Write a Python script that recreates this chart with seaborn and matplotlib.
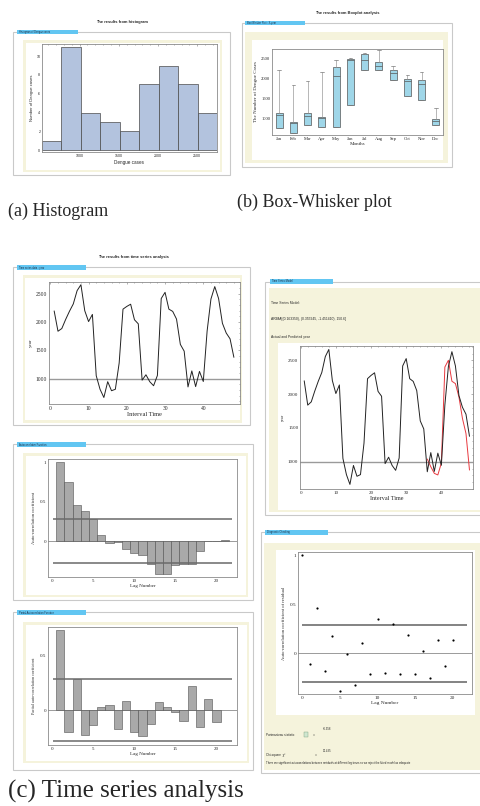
import numpy as np
import pandas as pd
import matplotlib.pyplot as plt
import seaborn as sns
from matplotlib.patches import Rectangle
from matplotlib.ticker import MultipleLocator

sns.set_style("white")
plt.rcParams["font.family"] = ["Liberation Serif", "DejaVu Serif"]
plt.rcParams["axes.linewidth"] = 0.6

W, H = 480, 806
BEIGE = "#f5f3dc"
TAB = "#62c6f2"
FRAME = "#c9c9c9"
SANS = ["Liberation Sans", "DejaVu Sans"]

# ---- data ----
hist_edges = [520, 768, 1016, 1264, 1512, 1760, 2008, 2256, 2504, 2752]
hist_counts = [1, 11, 4, 3, 2, 7, 9, 7, 4]

months = ["Jan", "Feb", "Mar", "Apr", "May", "Jun",
          "Jul", "Aug", "Sep", "Oct", "Nov", "Dec"]
box_low = [750, 625, 833, 775, 792, 1333, 2208, 2192, 1942, 1542, 1458, 833]
box_q1 = [750, 625, 833, 775, 792, 1333, 2208, 2192, 1942, 1542, 1458, 833]
box_med = [1083, 875, 1058, 1000, 2058, 2458, 2442, 2308, 2125, 1917, 1850, 933]
box_q3 = [1125, 917, 1142, 1042, 2275, 2483, 2608, 2392, 2192, 1975, 1958, 975]
box_high = [2192, 1833, 1917, 2150, 2442, 2500, 2625, 2692, 2308, 2083, 2150, 1250]

ts_time = list(range(1, 49))
ts_cases = [2196, 1837, 1885, 2045, 2190, 2320, 2555, 2660, 2200, 2008, 2135, 1050,
            810, 665, 945, 785, 810, 1275, 2228, 2276, 2315, 2040, 1968, 972,
            1067, 945, 873, 1055, 2416, 2525, 2228, 2188, 2052, 1604, 1485, 852,
            1135, 858, 1127, 948, 1840, 2407, 2627, 2416, 1978, 1805, 1703, 1376]
pred_time = list(range(36, 49))
pred_cases = [1040, 926, 828, 805, 980, 2400, 2500, 2190, 2155, 1958, 1640, 1418, 877]

acf_lags = list(range(1, 22))
acf_vals = [1.0, 0.745, 0.46, 0.387, 0.277, 0.077, -0.03, -0.017, -0.094, -0.149,
            -0.179, -0.285, -0.421, -0.413, -0.306, -0.285, -0.285, -0.123,
            -0.005, 0.004, 0.013]
acf_limit = 0.277

pacf_lags = list(range(1, 21))
pacf_vals = [0.742, -0.199, 0.285, -0.230, -0.138, 0.025, 0.046, -0.178, 0.086,
             -0.199, -0.236, -0.132, 0.077, 0.031, -0.015, -0.101, 0.221, -0.160,
             0.107, -0.107]
pacf_limit = 0.287

resid_lags = list(range(0, 21))
resid_acf = [1.0, -0.112, 0.468, -0.180, 0.173, -0.380, -0.010, -0.322, 0.102,
             -0.210, 0.349, -0.197, 0.295, -0.210, 0.183, -0.210, 0.024, -0.254,
             0.136, -0.125, 0.136]
resid_limit = 0.29

fig = plt.figure(figsize=(W / 100, H / 100), dpi=100)


def rect(x0, y0, x1, y1, fc, ec="none", lw=0.6, z=-10):
    fig.add_artist(Rectangle((x0 / W, 1 - y1 / H), (x1 - x0) / W, (y1 - y0) / H,
                             transform=fig.transFigure, facecolor=fc,
                             edgecolor=ec, lw=lw, zorder=z))


def panel(frame, tab, beige, white, label):
    rect(*frame, fc="white", ec=FRAME, lw=0.8, z=-10)
    rect(*beige, fc=BEIGE, z=-9)
    rect(*white, fc="white", z=-8)
    rect(*tab, fc=TAB, z=-7)
    fig.text((tab[0] + 2) / W, 1 - (tab[1] + tab[3]) / 2 / H, label,
             fontsize=1.8, family=SANS, color="#1a2a40", va="center")


def add_ax(x0, y0, x1, y1):
    return fig.add_axes([x0 / W, 1 - y1 / H, (x1 - x0) / W, (y1 - y0) / H])


def style(ax, size=3.6):
    for s in ax.spines.values():
        s.set_color("#8a8a8a")
        s.set_linewidth(0.6)
    ax.tick_params(which="both", direction="in", length=1.5, width=0.4,
                   color="#777777", labelsize=size, pad=1.2)
    ax.tick_params(which="minor", length=1.0)


def ftext(x, y, s, **kw):
    fig.text(x / W, 1 - y / H, s, **kw)


# ---- (a) histogram ----
ftext(122, 22, "The results from histogram", fontsize=2.9, family=SANS,
      weight="bold", ha="center", va="center")
panel((13, 32, 230, 175), (17, 30, 78, 34), (23, 40, 222, 172), (26, 43, 220, 170),
      "Histogram of Dengue cases")
ax = add_ax(42, 44, 217, 152)
mids = [(a + b) / 2 for a, b in zip(hist_edges[:-1], hist_edges[1:])]
sns.histplot(x=mids, weights=hist_counts, bins=hist_edges, color="#b3c3de",
             edgecolor="#4a4a4a", linewidth=0.5, alpha=1, ax=ax)
ax.set_xlim(hist_edges[0], hist_edges[-1])
ax.set_ylim(-0.2, 11.3)
ax.set_xticks([1000, 1500, 2000, 2500])
ax.set_yticks([0, 2, 4, 6, 8, 10])
ax.xaxis.set_minor_locator(MultipleLocator(100))
style(ax, 2.6)
ax.tick_params(which="both", top=True)
for t in ax.get_xticklabels() + ax.get_yticklabels():
    t.set_family(SANS)
ax.set_xlabel("Dengue cases", fontsize=3.3, family=SANS, labelpad=1.5)
ax.set_ylabel("Number of Dengue cases", fontsize=3.0, family=SANS, labelpad=2)

ftext(8, 211, "(a) Histogram", fontsize=13, va="center")

# ---- (b) box-whisker ----
ftext(347, 13, "The results from Boxplot analysis", fontsize=2.9, family=SANS,
      weight="bold", ha="center", va="center")
panel((242, 23, 452, 167), (245, 21, 305, 25), (245, 32, 448, 163), (252, 40, 443, 160),
      "Box/Whisker Plot : X-year")
ax = add_ax(272, 49, 443, 135)
box_df = pd.DataFrame({
    "month": np.repeat(months, 5),
    "cases": np.column_stack([box_low, box_q1, box_med, box_q3, box_high]).ravel(),
})
sns.boxplot(data=box_df, x="month", y="cases", order=months, whis=(0, 100),
            width=0.5, color="#9fd6e8", saturation=1, linecolor="#555555",
            linewidth=0.5, whiskerprops={"color": "#9a9a9a"},
            capprops={"color": "#777777"}, ax=ax)
ax.set_xlim(-0.5, 11.5)
ax.set_ylim(583, 2725)
ax.set_yticks([1000, 1500, 2000, 2500])
style(ax, 3.3)
ax.set_xlabel("Months", fontsize=3.6, labelpad=0.8)
ax.set_ylabel("The Number of Dengue Cases", fontsize=3.6, labelpad=2)

ftext(237, 202, "(b) Box-Whisker plot", fontsize=13, va="center")

# ---- (c) time series ----
ftext(133, 257, "The results from time series analysis", fontsize=2.9, family=SANS,
      weight="bold", ha="center", va="center")
panel((13, 267, 250, 425), (17, 265, 86, 270), (23, 275, 242, 423), (25, 278, 240, 420),
      "Time series data : year")
ax = add_ax(49, 282, 240, 404)
ax.axhline(1000, color="#9a9a9a", lw=1.0, zorder=1)
sns.lineplot(x=ts_time, y=ts_cases, color="#222222", lw=0.7, ax=ax, zorder=2)
ax.set_xlim(-0.35, 49.6)
ax.set_ylim(550, 2708)
ax.set_xticks([0, 10, 20, 30, 40])
ax.set_yticks([1000, 1500, 2000, 2500])
ax.xaxis.set_minor_locator(MultipleLocator(2))
ax.yaxis.set_minor_locator(MultipleLocator(100))
style(ax, 4.0)
ax.tick_params(which="both", top=True, right=True)
ax.set_xlabel("Interval Time", fontsize=4.6, labelpad=0.8)
ax.set_ylabel("year", fontsize=3.6, labelpad=2)

# ACF
panel((13, 444, 253, 600), (17, 442, 86, 447), (23, 453, 248, 597), (26, 456, 246, 595),
      "Autocorrelation Function")
ax = add_ax(48, 459, 237, 577)
sns.barplot(x=acf_lags, y=acf_vals, native_scale=True, width=1, color="#a9a9a9",
            saturation=1, edgecolor="#505050", linewidth=0.4, ax=ax, zorder=2)
ax.axhline(0, color="#8a8a8a", lw=0.6, zorder=1)
ax.hlines([acf_limit, -acf_limit], 0.12, 21.95, color="#6a6a6a", lw=1.1, zorder=3)
ax.set_xlim(-0.49, 22.5)
ax.set_ylim(-0.455, 1.04)
ax.set_xticks([0, 5, 10, 15, 20])
ax.set_yticks([0, 0.5, 1])
ax.set_yticklabels(["0", "0.5", "1"])
ax.xaxis.set_minor_locator(MultipleLocator(1))
style(ax, 3.6)
ax.set_xlabel("Lag Number", fontsize=3.6, labelpad=0.8)
ax.set_ylabel("Auto-correlation coefficient", fontsize=3.3, labelpad=3)

# PACF
panel((13, 612, 253, 770), (17, 610, 86, 615), (23, 622, 249, 763), (26, 625, 247, 761),
      "Partial Autocorrelation Function")
ax = add_ax(48, 627, 237, 745)
sns.barplot(x=pacf_lags, y=pacf_vals, native_scale=True, width=1, color="#a9a9a9",
            saturation=1, edgecolor="#505050", linewidth=0.4, ax=ax, zorder=2)
ax.axhline(0, color="#8a8a8a", lw=0.6, zorder=1)
ax.hlines([pacf_limit, -pacf_limit], 0.12, 21.95, color="#6a6a6a", lw=1.1, zorder=3)
ax.set_xlim(-0.49, 22.5)
ax.set_ylim(-0.322, 0.767)
ax.set_xticks([0, 5, 10, 15, 20])
ax.set_yticks([0, 0.5])
ax.set_yticklabels(["0", "0.5"])
ax.xaxis.set_minor_locator(MultipleLocator(1))
style(ax, 3.6)
ax.set_xlabel("Lag Number", fontsize=3.6, labelpad=0.8)
ax.set_ylabel("Partial auto-correlation coefficient", fontsize=3.0, labelpad=3)

ftext(8, 791, "(c) Time series analysis", fontsize=18, va="center")

# Model + forecast
panel((265, 282, 500, 515), (270, 279, 333, 284), (269, 288, 500, 512), (278, 343, 500, 510),
      "Time Series Model")
ftext(271, 303, "Time Series Model:", fontsize=2.4, family=SANS, va="center")
ftext(271, 319, "ARIMA[(0.163350), (0.355945, -1.451410), 150.6]", fontsize=2.4,
      family=SANS, va="center")
ftext(271, 337, "Actual and Predicted year", fontsize=2.4, family=SANS, va="center")
ax = add_ax(300, 346, 473, 489)
ax.axhline(1000, color="#9a9a9a", lw=1.0, zorder=1)
sns.lineplot(x=ts_time, y=ts_cases, color="#222222", lw=0.7, ax=ax, zorder=3)
sns.lineplot(x=pred_time, y=pred_cases, color="#e8393f", lw=0.7, ax=ax, zorder=2)
ax.set_xlim(-0.2, 49.0)
ax.set_ylim(597, 2711)
ax.set_xticks([0, 10, 20, 30, 40])
ax.set_yticks([1000, 1500, 2000, 2500])
ax.xaxis.set_minor_locator(MultipleLocator(2))
ax.yaxis.set_minor_locator(MultipleLocator(100))
style(ax, 3.6)
ax.tick_params(which="both", top=True, right=True)
ax.set_xlabel("Interval Time", fontsize=4.4, labelpad=0.8)
ax.set_ylabel("year", fontsize=3.0, labelpad=2)

# Diagnostic checking
panel((261, 532, 500, 773), (265, 530, 328, 535), (264, 543, 500, 770), (276, 550, 475, 715),
      "Diagnostic Checking")
ax = add_ax(298, 552, 472, 694)
ax.axhline(0, color="#8a8a8a", lw=0.6, zorder=1)
ax.hlines([resid_limit, -resid_limit], 0, 21.95, color="#7a7a7a", lw=1.3, zorder=2)
sns.scatterplot(x=resid_lags, y=resid_acf, s=2.5, color="black", linewidth=0,
                ax=ax, zorder=3)
ax.set_xlim(-0.58, 22.57)
ax.set_ylim(-0.414, 1.034)
ax.set_xticks([0, 5, 10, 15, 20])
ax.set_yticks([0, 0.5, 1])
ax.set_yticklabels(["0", "0.5", "1"])
ax.xaxis.set_minor_locator(MultipleLocator(1))
style(ax, 3.8)
ax.set_xlabel("Lag Number", fontsize=3.9, labelpad=0.8)
ax.set_ylabel("Auto-correlation coefficient of residual", fontsize=3.3, labelpad=3)

ftext(266, 735, "Portmanteau statistic", fontsize=2.2, family=SANS, va="center")
rect(304, 732, 308, 737, fc="#cfe6d0", ec="#7aa07c", lw=0.3, z=-6)
ftext(313, 735, "=", fontsize=2.4, family=SANS, va="center")
ftext(323, 729, "76.358", fontsize=2.0, family=SANS, va="center")
ftext(266, 755, "Chi-square  \u03c7\u00b2", fontsize=2.2, family=SANS, va="center")
ftext(315, 755, "=", fontsize=2.4, family=SANS, va="center")
ftext(323, 751, "30.435", fontsize=2.0, family=SANS, va="center")
ftext(266, 763, "There are significant autocorrelations between residuals at different lag times "
      "so we reject the fitted model as adequate", fontsize=2.0, family=SANS, va="center")

fig.savefig("out.png", dpi=100)
